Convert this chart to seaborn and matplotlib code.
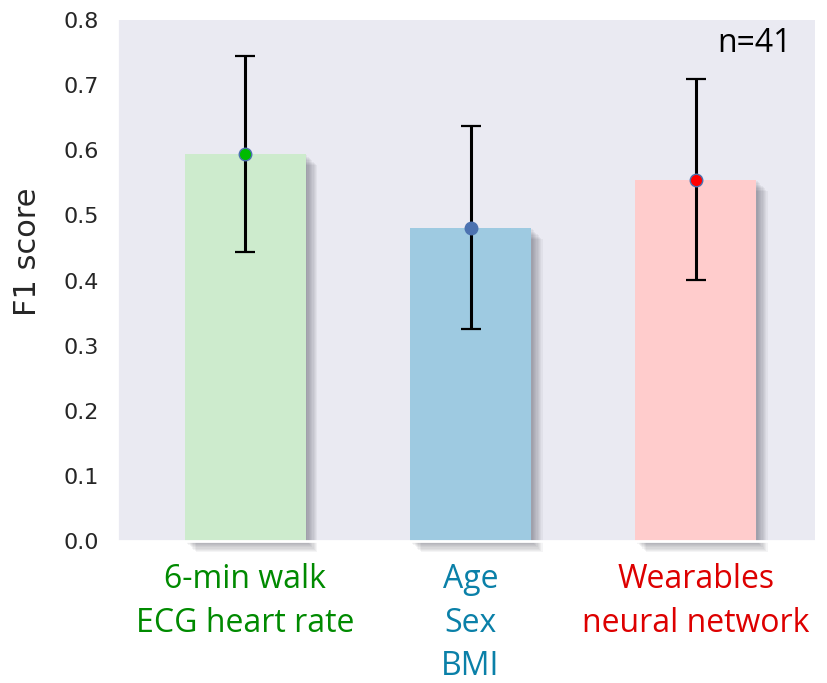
import numpy as np
import matplotlib
matplotlib.use("Agg")
import matplotlib.pyplot as plt
import matplotlib.patheffects as pe
import seaborn as sns
import pandas as pd

# data
groups = ["6-min walk\nECG heart rate", "Age\nSex\nBMI", "Wearables\nneural network"]
f1_mean = [0.594, 0.481, 0.555]
f1_err = [0.150, 0.156, 0.154]
bar_colors = ["#CDEBCD", "#9ECAE1", "#FFCCCC"]
dot_colors = ["#00BB00", "#4C72B0", "#FF0000"]
label_colors = ["#008A00", "#0A80A8", "#DD0000"]
n_label = "n=41"

sns.set_theme(style="dark")
plt.rcParams['font.family'] = ['DejaVu Sans']

fig = plt.figure(figsize=(8.28, 6.83), dpi=100)
ax = fig.add_axes([0.1413, 0.2079, 0.8430, 0.7628])

df = pd.DataFrame({"group": groups, "f1": f1_mean})
sns.barplot(data=df, x="group", y="f1", hue="group", palette=bar_colors,
            saturation=1, legend=False, width=0.54, ax=ax, zorder=2)

# soft drop shadow on bars
shadow = [pe.SimplePatchShadow(offset=(k * 0.9, -k * 0.9), shadow_rgbFace="#303040", alpha=0.05)
          for k in range(1, 10)]
for bar in ax.patches:
    bar.set_linewidth(0)
    bar.set_clip_on(False)
    bar.set_path_effects(shadow + [pe.Normal()])

xs = np.arange(len(groups))
ax.errorbar(xs, f1_mean, yerr=f1_err, fmt="none", ecolor="black",
            elinewidth=2.2, capsize=7.5, capthick=1.6, zorder=3)
for x, y, c in zip(xs, f1_mean, dot_colors):
    ax.plot(x, y, "o", color=c, markersize=9, markeredgecolor="#4C72B0",
            markeredgewidth=1, zorder=4)

ax.set_xlim(-0.57, 2.53)
ax.set_ylim(0, 0.8)
ax.set_yticks(np.arange(0, 0.81, 0.1))
ax.set_yticklabels([f"{v:.1f}" for v in np.arange(0, 0.81, 0.1)], fontsize=16)
ax.tick_params(axis="y", pad=13, length=0)
ax.tick_params(axis="x", pad=16, length=0)
ax.set_xlabel("")
ax.set_ylabel("F1 score", fontsize=22)
ax.yaxis.set_label_coords(-0.108, 0.555)

ax.set_xticks(xs)
ax.set_xticklabels(groups, fontsize=23, family="Open Sans", linespacing=1.42)
for lab, c in zip(ax.get_xticklabels(), label_colors):
    lab.set_color(c)
    lab.set_verticalalignment("top")

for side in ["top", "right"]:
    ax.spines[side].set_visible(False)
for side in ["left", "bottom"]:
    ax.spines[side].set_visible(True)
    ax.spines[side].set_color("white")
    ax.spines[side].set_linewidth(2)

ax.text(0.967, 0.939, n_label, transform=ax.transAxes, ha="right",
        va="baseline", fontsize=23, family="Open Sans", color="black")

fig.savefig("out.png", dpi=100)
